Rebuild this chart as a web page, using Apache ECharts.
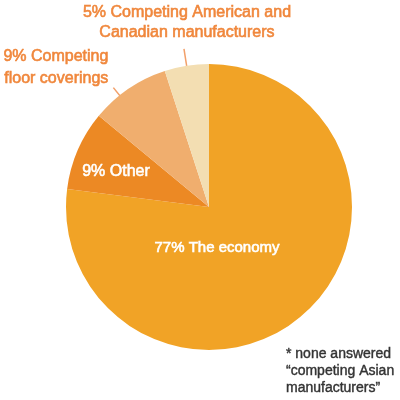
<!DOCTYPE html>
<html>
<head>
<meta charset="utf-8">
<script src="https://cdn.jsdelivr.net/npm/echarts@6/dist/echarts.min.js"></script>
<style>
  html, body { margin: 0; padding: 0; background: #fff; }
  #main { width: 400px; height: 400px; }
</style>
</head>
<body>
<div id="main"></div>
<script>
// answers, clockwise from 12 o'clock
const categories = ['The economy', 'Other', 'Competing\nfloor coverings', 'Competing American and\nCanadian manufacturers'];
const shares = [77, 9, 9, 5];
const footnote = '* none answered\n\u201Ccompeting Asian\nmanufacturers\u201D';

const sliceColors = ['#F1A326', '#EC8924', '#F0AE6E', '#F3DEB2'];
const orange = '#F0873C';
const pieCenter = [209, 207];

const mychart = echarts.init(document.getElementById('main'));

const pieData = categories.map((name, i) => {
  const inside = i < 2;
  const col = inside ? '#fff' : orange;
  return {
    name: name,
    value: shares[i],
    itemStyle: { color: sliceColors[i] },
    label: {
      position: inside ? 'inside' : 'outside',
      color: col,
      textBorderColor: col,
      textBorderWidth: 0.6,
      fontSize: i === 0 ? 15 : 16,
      lineHeight: i === 2 ? 22 : 20
    },
    labelLine: { show: !inside }
  };
});

// where the inside labels sit; outside ones hang off the tick end
const insideSpots = { 0: [217, 248], 1: [116, 172] };

// turn a point round the pie centre (degrees, clockwise on screen)
function turn(p, deg) {
  const r = deg * Math.PI / 180;
  const dx = p[0] - pieCenter[0], dy = p[1] - pieCenter[1];
  return [pieCenter[0] + dx * Math.cos(r) - dy * Math.sin(r),
          pieCenter[1] + dx * Math.sin(r) + dy * Math.cos(r)];
}

const option = {
  animation: false,
  title: {
    text: footnote,
    left: 286,
    top: 346,
    padding: 0,
    textStyle: {
      fontFamily: 'Liberation Sans',
      fontSize: 14,
      lineHeight: 17,
      fontWeight: 'normal',
      color: '#333',
      textBorderColor: '#333',
      textBorderWidth: 0.4
    }
  },
  series: [
    {
      type: 'pie',
      center: pieCenter,
      radius: 143,
      startAngle: 90,
      clockwise: true,
      avoidLabelOverlap: false,
      data: pieData,
      label: {
        fontFamily: 'Liberation Sans',
        formatter: p => p.value + '% ' + p.name
      },
      labelLine: {
        length: 17,
        length2: 0,
        lineStyle: { color: '#F2A06A', width: 1.5 }
      },
      labelLayout: function (params) {
        const i = params.dataIndex;
        if (insideSpots[i]) {
          return { x: insideSpots[i][0], y: insideSpots[i][1], align: 'center', verticalAlign: 'middle' };
        }
        const pts = params.labelLinePoints;
        if (!pts) return {};
        let a = pts[0], b = pts[1];
        if (i === 2) { a = turn(a, -4.5); b = turn(b, -4.5); }
        const len = Math.hypot(b[0] - a[0], b[1] - a[1]) || 1;
        const ux = (b[0] - a[0]) / len, uy = (b[1] - a[1]) / len;
        if (i === 2) b = [b[0] - ux * 7, b[1] - uy * 7];
        const tick = [[a[0] - ux * 6, a[1] - uy * 6], b];
        if (i === 2) {
          return { x: b[0] - 5, y: b[1] + 2, align: 'right', verticalAlign: 'bottom', labelLinePoints: tick };
        }
        return { x: b[0] + 3, y: b[1] - 6, align: 'center', verticalAlign: 'bottom', labelLinePoints: tick };
      }
    }
  ]
};

mychart.setOption(option);
</script>
</body>
</html>
